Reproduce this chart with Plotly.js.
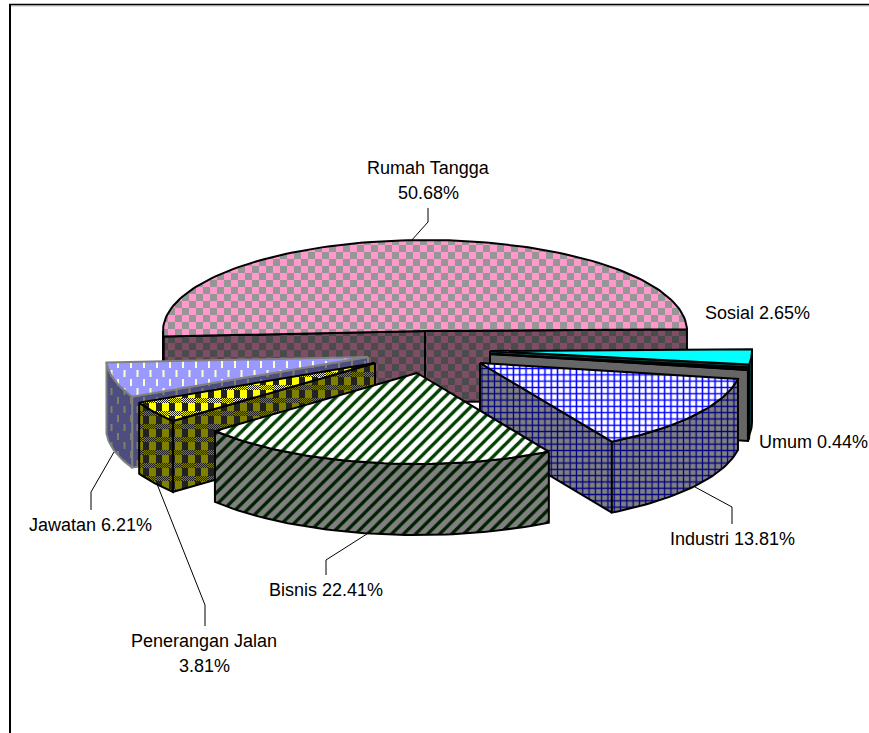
<!DOCTYPE html>
<html><head><meta charset="utf-8">
<script src="https://cdn.plot.ly/plotly-3.0.1.min.js"></script>
<style>html,body{margin:0;padding:0;background:#fff}#chart{width:869px;height:733px}</style>
</head><body><div id="chart"></div>
<script>
// ---- data ----
const categories = ['Rumah Tangga','Sosial','Umum','Industri','Bisnis','Penerangan Jalan','Jawatan'];
const shares = [50.68,2.65,0.44,13.81,22.41,3.81,6.21];
const labelLines = [['Rumah Tangga','50.68%'],['Sosial 2.65%'],['Umum 0.44%'],['Industri 13.81%'],['Bisnis 22.41%'],['Penerangan Jalan','3.81%'],['Jawatan 6.21%']];

// ---- pie geometry (style, not data) ----
const firstAngle = 183.5, cx = 425, cy = 331, rx = 262, ry = 91, depth = 71;
const explode = [[0,0],[65,20],[65,23],[55,32],[-8,42],[-50,32],[-57,26]];
const paintOrder = [0,6,1,2,5,3,4];
const labelPos = [[428,168],[757,313],[813,442],[732,539],[326,590],[204,641],[90,525]];
const leaders = [
  [[411,241],[428,222],[428,208]],
  [[695,487],[732,507],[732,524]],
  [[370,532],[326,560],[326,575]],
  [[157,484],[205,605],[205,626]],
  [[114,452],[91,492],[91,510]]
];

// ---- face styles: top / side ----
const tile = {
  checker:(a,b)=>({w:14,h:14,bg:a,rects:[[0,0,7,7,b],[7,7,7,7,b]]}),
  dash:(a,b)=>({w:13,h:18,bg:a,rects:[[0,1,2,7,b],[6.5,10,2,7,b]]}),
  weave:(a,b)=>{ const r=[[0,0,6,8,b]];
    for(let y=8;y<13;y++) for(let x=(y%2);x<13;x+=2) r.push([x,y,1,1,b]);
    return {w:13,h:13,bg:a,rects:r}; }
};
const styles = [
  {top:tile.checker('#FF99CC','#969696'), side:tile.checker('#804D66','#4B4B4B'), line:'#000', lw:2},
  {top:{solid:'#00FFFF'}, side:{solid:'#004848'}, line:'#000', lw:2},
  {top:{solid:'#111111'}, side:{solid:'#666666'}, line:'#000', lw:2},
  {top:{shape:'+',bg:'#FFFFFF',fg:'#0000FF',size:6.3,sol:0.42}, side:{shape:'+',bg:'#808080',fg:'#000080',size:6.3,sol:0.36}, line:'#000', lw:2},
  {top:{shape:'/',bg:'#FFFFFF',fg:'#004000',size:8.5,sol:0.4}, side:{shape:'/',bg:'#808080',fg:'#002000',size:8.5,sol:0.4}, line:'#000', lw:2},
  {top:tile.weave('#FFFF00','#222222'), side:tile.weave('#808000','#222222'), line:'#000', lw:2},
  {top:tile.dash('#9999FF','#FFFFCC'), side:tile.dash('#4D4D80','#808066'), line:'#808080', lw:2}
];

// ---- build faces from the shares ----
const rad = d=>d*Math.PI/180;
function pt(c,a,dz){ return [c[0]+rx*Math.cos(rad(a)), c[1]-ry*Math.sin(rad(a))+dz]; }
function arc(c,a0,a1,dz){ const n=Math.max(2,Math.ceil(Math.abs(a0-a1)/1.5)),o=[];
  for(let i=0;i<=n;i++) o.push(pt(c,a0+(a1-a0)*i/n,dz)); return o; }

const traces=[], customs=[];
function addFace(points,fs,st){
  const closed=points.concat([points[0]]);
  const t={type:'scatter',mode:'lines',x:closed.map(p=>p[0]),y:closed.map(p=>p[1]),
    fill:'toself',hoverinfo:'skip',showlegend:false,line:{color:st.line,width:st.lw,shape:'linear'}};
  if(fs.solid){ t.fillcolor=fs.solid; }
  else if(fs.shape){ t.fillcolor=fs.bg; t.fillpattern={shape:fs.shape,bgcolor:fs.bg,fgcolor:fs.fg,size:fs.size,solidity:fs.sol,fillmode:'replace'}; }
  else { t.fillcolor=fs.bg; t.fillpattern={shape:'.',bgcolor:fs.bg,fgcolor:fs.bg,size:8,solidity:0.3,fillmode:'replace'}; customs.push([traces.length,fs]); }
  traces.push(t);
}
let a=firstAngle; const spans=shares.map(v=>{const s=a,e=a-v*3.6;a=e;return [s,e];});
paintOrder.forEach(i=>{
  const [s,e]=spans[i], st=styles[i];
  const c=[cx+explode[i][0],cy+explode[i][1]];
  // cut faces that look towards the viewer
  if(Math.cos(rad(s))<0){ const p=pt(c,s,0); addFace([c,p,[p[0],p[1]+depth],[c[0],c[1]+depth]],st.side,st); }
  if(Math.cos(rad(e))>0){ const p=pt(c,e,0); addFace([c,p,[p[0],p[1]+depth],[c[0],c[1]+depth]],st.side,st); }
  // outer wall: the part of the rim with sin<0
  for(const k of [-1,0,1]){
    const hi=Math.min(s,360*k), lo=Math.max(e,360*k-180);
    if(hi>lo) addFace(arc(c,hi,lo,0).concat(arc(c,lo,hi,depth)),st.side,st);
  }
  // top
  addFace([c].concat(arc(c,s,e,0)),st.top,st);
});

const annotations=[];
labelLines.forEach((ls,i)=>ls.forEach((txt,j)=>annotations.push({
  x:labelPos[i][0],y:labelPos[i][1]+j*25,xref:'x',yref:'y',text:txt,showarrow:false,
  xanchor:'center',yanchor:'middle',font:{family:'"Liberation Sans",Arial,sans-serif',size:18,color:'#000'}})));

const shapes=[
  {type:'line',x0:10,x1:10,y0:4,y1:733,line:{color:'#000',width:2}},
  {type:'line',x0:9,x1:869,y0:4.5,y1:4.5,line:{color:'#000',width:1.5}},
  {type:'line',x0:11,x1:869,y0:5.8,y1:5.8,line:{color:'#999',width:1}}
];
leaders.forEach(l=>{ for(let i=0;i<l.length-1;i++) shapes.push({type:'line',x0:l[i][0],y0:l[i][1],x1:l[i+1][0],y1:l[i+1][1],line:{color:'#000',width:1}}); });

const layout={width:869,height:733,margin:{l:0,r:0,t:0,b:0},paper_bgcolor:'#fff',plot_bgcolor:'#fff',showlegend:false,
  xaxis:{range:[0,869],visible:false,fixedrange:true},
  yaxis:{range:[733,0],visible:false,fixedrange:true},
  annotations,shapes};

Plotly.newPlot('chart',traces,layout,{displayModeBar:false,staticPlot:true}).then(gd=>{
  // swap in the woven tiles the library has no built-in shape for
  const layers=gd.querySelectorAll('.scatterlayer .trace');
  const NS='http://www.w3.org/2000/svg';
  customs.forEach(([idx,fs])=>{
    const fill=layers[idx]&&layers[idx].querySelector('.js-fill'); if(!fill) return;
    const m=(fill.style.fill||fill.getAttribute('fill')||'').match(/#([^'")]+)/); if(!m) return;
    const pat=document.getElementById(m[1]); if(!pat) return;
    while(pat.firstChild) pat.removeChild(pat.firstChild);
    pat.removeAttribute('patternTransform');
    pat.setAttribute('width',fs.w); pat.setAttribute('height',fs.h);
    const add=(x,y,w,h,c)=>{const r=document.createElementNS(NS,'rect');
      r.setAttribute('x',x);r.setAttribute('y',y);r.setAttribute('width',w);r.setAttribute('height',h);r.setAttribute('fill',c);pat.appendChild(r);};
    add(0,0,fs.w,fs.h,fs.bg);
    fs.rects.forEach(r=>add(r[0],r[1],r[2],r[3],r[4]));
  });
});
</script></body></html>
